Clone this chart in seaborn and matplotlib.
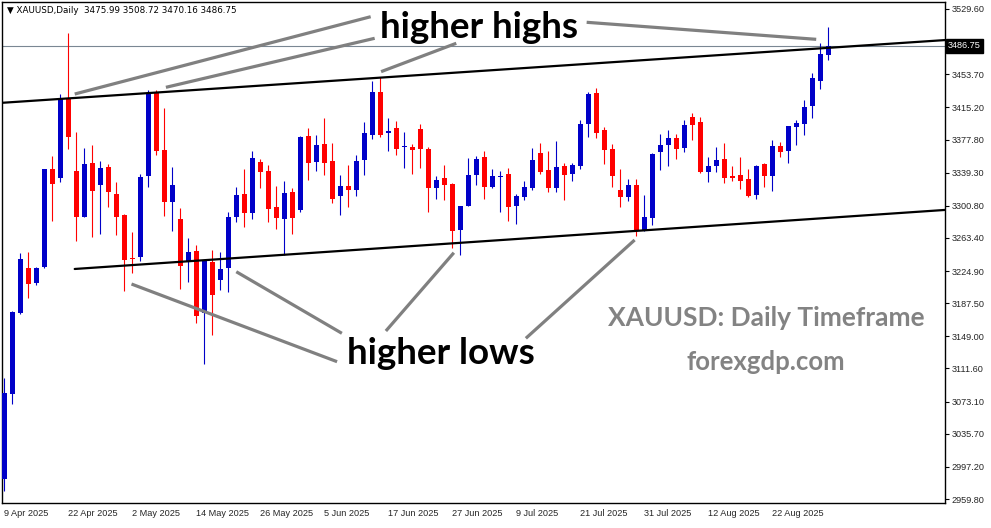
import numpy as np
import pandas as pd
import seaborn as sns
import matplotlib.pyplot as plt
import matplotlib.transforms as mtransforms

# XAUUSD daily candles, 9 Apr 2025 -> end of Aug 2025
opens = [2983, 3082, 3176, 3228, 3211, 3230, 3343, 3333, 3425, 3341,
         3288, 3350, 3325, 3346, 3314, 3290, 3240, 3241, 3335, 3432,
         3366, 3305, 3285, 3235, 3248, 3176, 3235, 3215, 3228, 3288,
         3314, 3292, 3352, 3341, 3299, 3285, 3317, 3296, 3382, 3352,
         3373, 3353, 3312, 3324, 3319, 3354, 3383, 3433, 3385, 3391,
         3369, 3369, 3390, 3367, 3322, 3333, 3326, 3273, 3301, 3337,
         3357, 3323, 3334, 3338, 3300, 3311, 3322, 3362, 3342, 3322,
         3347, 3338, 3347, 3396, 3432, 3389, 3367, 3319, 3311, 3325,
         3273, 3287, 3363, 3371, 3380, 3368, 3404, 3398, 3340, 3347,
         3355, 3335, 3337, 3332, 3313, 3349, 3335, 3370, 3365, 3392,
         3396, 3417, 3446, 3475.99]
highs = [3100, 3178, 3246, 3247, 3230, 3344, 3359, 3431, 3502, 3387,
         3368, 3371, 3353, 3349, 3328, 3291, 3270, 3338, 3435, 3435,
         3414, 3346, 3298, 3263, 3255, 3238, 3249, 3247, 3294, 3323,
         3344, 3365, 3355, 3348, 3324, 3330, 3321, 3382, 3391, 3383,
         3403, 3374, 3337, 3348, 3360, 3398, 3446, 3451, 3403, 3399,
         3387, 3373, 3396, 3369, 3335, 3348, 3327, 3301, 3356, 3359,
         3365, 3344, 3341, 3345, 3314, 3329, 3368, 3374, 3364, 3376,
         3351, 3351, 3400, 3433, 3438, 3392, 3373, 3344, 3332, 3332,
         3313, 3362, 3384, 3389, 3384, 3400, 3409, 3404, 3358, 3369,
         3374, 3347, 3357, 3344, 3348, 3350, 3377, 3375, 3394, 3401,
         3424, 3455, 3490, 3508.72]
lows = [2969, 3070, 3175, 3194, 3209, 3228, 3283, 3328, 3367, 3260,
        3288, 3264, 3268, 3299, 3267, 3202, 3223, 3237, 3323, 3360,
        3289, 3271, 3204, 3212, 3164, 3117, 3150, 3203, 3201, 3282,
        3276, 3285, 3321, 3282, 3274, 3243, 3268, 3293, 3331, 3341,
        3337, 3304, 3290, 3299, 3312, 3336, 3378, 3381, 3364, 3360,
        3345, 3338, 3345, 3293, 3309, 3307, 3252, 3244, 3300, 3325,
        3309, 3321, 3294, 3283, 3280, 3308, 3319, 3338, 3317, 3317,
        3307, 3329, 3343, 3381, 3380, 3349, 3323, 3299, 3306, 3266,
        3272, 3279, 3342, 3347, 3355, 3363, 3377, 3339, 3328, 3340,
        3327, 3330, 3320, 3311, 3309, 3323, 3318, 3357, 3350, 3372,
        3383, 3403, 3436, 3470.16]
closes = [3083, 3177, 3239, 3210, 3228, 3343, 3326, 3425, 3381, 3288,
          3349, 3318, 3345, 3317, 3288, 3238, 3239, 3334, 3432, 3364,
          3305, 3325, 3231, 3247, 3173, 3236, 3197, 3227, 3288, 3313,
          3292, 3356, 3340, 3297, 3286, 3316, 3286, 3381, 3351, 3371,
          3350, 3309, 3324, 3319, 3353, 3385, 3433, 3383, 3388, 3367,
          3370, 3366, 3367, 3321, 3331, 3325, 3272, 3301, 3337, 3355,
          3323, 3335, 3335, 3299, 3312, 3323, 3354, 3340, 3322, 3346,
          3337, 3348, 3396, 3431, 3385, 3366, 3335, 3311, 3325, 3272,
          3288, 3361, 3371, 3380, 3367, 3395, 3395, 3340, 3347, 3354,
          3333, 3333, 3330, 3312, 3347, 3335, 3370, 3363, 3393, 3397,
          3416, 3449, 3477, 3486.75]

date_labels = ["9 Apr 2025", "22 Apr 2025", "2 May 2025", "14 May 2025",
               "26 May 2025", "5 Jun 2025", "17 Jun 2025", "27 Jun 2025",
               "9 Jul 2025", "21 Jul 2025", "31 Jul 2025", "12 Aug 2025",
               "22 Aug 2025"]
date_bars = [0, 8, 16, 24, 32, 40, 48, 56, 64, 72, 80, 88, 96]

price_ticks = [3529.60, 3491.10, 3453.70, 3415.20, 3377.80, 3339.30, 3300.80,
               3263.40, 3224.90, 3187.50, 3149.00, 3111.60, 3073.10, 3035.70,
               2997.20, 2959.80]

last_price = 3486.75

df = pd.DataFrame({"open": opens, "high": highs, "low": lows, "close": closes})
df["bar"] = np.arange(len(df))
df["up"] = df["close"] >= df["open"]

sns.set_theme(style="white")
plt.rcParams["font.family"] = ["DejaVu Sans"]

UP = "#0000c8"
DOWN = "#ff0000"

fig = plt.figure(figsize=(9.91, 5.28), dpi=100)
ax = fig.add_axes([2 / 991, 25 / 528, 943 / 991, 501 / 528])

cols = np.where(df["up"], UP, DOWN)
body_lo = df[["open", "close"]].min(axis=1)
body_h = (df["close"] - df["open"]).abs().clip(lower=1.2)

ax.vlines(df["bar"], df["low"], df["high"], colors=cols, linewidth=0.8, zorder=2)
ax.bar(df["bar"], body_h, bottom=body_lo, width=0.62, color=cols,
       linewidth=0, zorder=3)

# bid line
ax.axhline(last_price, color="#7a8793", lw=0.8, zorder=1)

# channel lines
ax.plot([-0.6, 117.7], [3420.3, 3493.5], color="black", lw=1.6, zorder=4)
ax.plot([8.8, 117.7], [3227.3, 3296.0], color="black", lw=1.6, zorder=4)

# annotation pointers
grey = "#808080"
hh = [((8.8, 3430.7), (45.8, 3520.6)),
      ((20.2, 3438.5), (46.3, 3495.5)),
      ((47.1, 3456.7), (56.5, 3489.7)),
      ((72.8, 3514.1), (101.5, 3494.3))]
hl = [((15.9, 3209.8), (41.6, 3119.5)),
      ((29.0, 3224.1), (42.2, 3152.5)),
      ((47.7, 3155.2), (56.2, 3246.2)),
      ((65.2, 3146.7), (78.8, 3261.0))]
for (x0, y0), (x1, y1) in hh + hl:
    ax.plot([x0, x1], [y0, y1], color=grey, lw=2.3, zorder=5,
            solid_capstyle="butt")

ax.text(59.3, 3508.0, "higher highs", fontsize=26.5, fontweight="bold",
        family="Lato", ha="center", va="center", color="black", zorder=6)
ax.text(54.6, 3129.0, "higher lows", fontsize=26.5, fontweight="bold",
        family="Lato", ha="center", va="center", color="black", zorder=6)
ax.text(95.2, 3170.3, "XAUUSD: Daily Timeframe", fontsize=19,
        fontweight="bold", family="Lato", ha="center", va="center",
        color="#838383", zorder=6)
ax.text(95.2, 3119.1, "forexgdp.com", fontsize=18.5, fontweight="bold",
        family="Lato", ha="center", va="center", color="#838383", zorder=6)

ax.text(0.005, 0.992,
        "\u25bc XAUUSD,Daily  3475.99 3508.72 3470.16 3486.75",
        transform=ax.transAxes, ha="left", va="top", fontsize=6.3,
        color="black", zorder=6)

ax.set_xlim(-0.29, 117.6)
ax.set_ylim(2955.2, 3537.7)

ax.set_xticks(date_bars)
ax.set_xticklabels(date_labels, ha="left", fontsize=6.6,
                   family="Liberation Sans")
ax.set_yticks(price_ticks)
ax.set_yticklabels([f"{p:.2f}" for p in price_ticks], fontsize=6.6,
                   family="Liberation Sans")
ax.yaxis.tick_right()
ax.tick_params(axis="both", direction="out", length=3, width=0.8,
               color="black", pad=2)
ax.tick_params(axis="x", pad=1)
for s in ax.spines.values():
    s.set_color("black")
    s.set_linewidth(1.0)
ax.grid(False)

# last price tag on the price scale (covers the 3491.10 label, as in the source)
trans = mtransforms.blended_transform_factory(ax.transAxes, ax.transData)
ax.text(1.003, last_price, f"{last_price:.2f}", transform=trans,
        ha="left", va="center", fontsize=6.6, family="Liberation Sans",
        color="white", zorder=10, clip_on=False,
        bbox=dict(boxstyle="square,pad=0.25", fc="black", ec="black"))

fig.savefig("out.png", dpi=100, facecolor="white")
